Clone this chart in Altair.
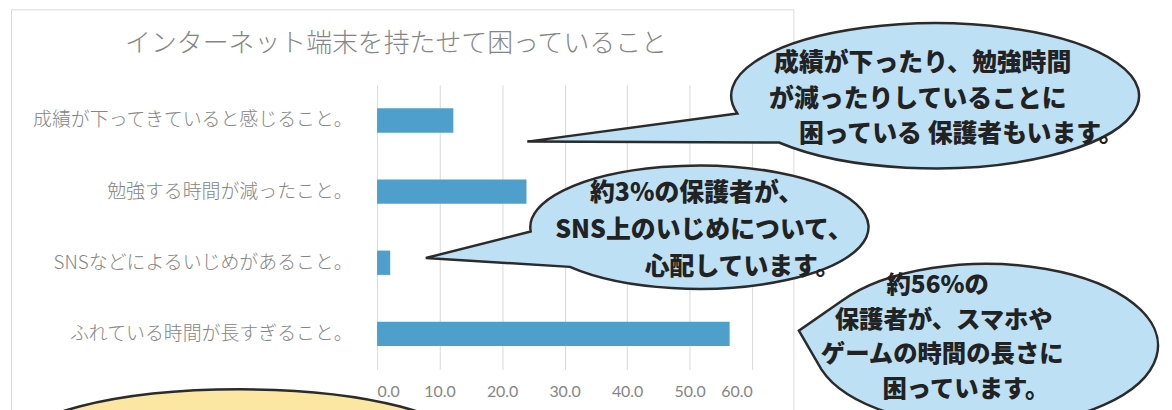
import math
import altair as alt
import pandas as pd

# ---------------- data ----------------
categories = [
    "成績が下ってきていると感じること。",
    "勉強する時間が減ったこと。",
    "SNSなどによるいじめがあること。",
    "ふれている時間が長すぎること。",
]
values = [12.2, 23.9, 2.1, 56.4]
tick_values = [0, 10, 20, 30, 40, 50, 60]
title_text = "インターネット端末を持たせて困っていること"

bubble1_lines = ["成績が下ったり、勉強時間", "が減ったりしていることに", "困っている 保護者もいます。"]
bubble2_lines = ["約3%の保護者が、", "SNS上のいじめについて、", "心配しています。"]
bubble3_lines = ["約56%の", "保護者が、スマホや", "ゲームの時間の長さに", "困っています。"]

df = pd.DataFrame({"category": categories, "value": values})
one = pd.DataFrame({"k": [0]})

# ---------------- layout helpers (page pixel -> plot pixel) ----------------
OX, OY = 376.0, 84.0
W, H = 377, 286


def px(x):
    return x - OX


def py(y):
    return y - OY


def bubble_path(rx, ry, tip=None, a_lo=None, a_hi=None):
    if tip is None:
        return f"M {-rx} 0 A {rx} {ry} 0 1 1 {rx} 0 A {rx} {ry} 0 1 1 {-rx} 0 Z"

    def P(a):
        r = math.radians(a)
        return rx * math.cos(r), ry * math.sin(r)

    hx, hy = P(a_hi)
    lx, ly = P(a_lo)
    return (f"M {hx:.1f} {hy:.1f} L {tip[0]:.1f} {tip[1]:.1f} L {lx:.1f} {ly:.1f} "
            f"A {rx} {ry} 0 1 0 {hx:.1f} {hy:.1f} Z")


BLUE_FILL = "#BDE0F5"
YELLOW_FILL = "#FBE7A1"
OUTLINE = "#2B2B2B"
TEXT_DARK = "#222222"
GRAY = "#858585"

# ---------------- layers ----------------
frame = alt.Chart(one).mark_rect(fill="white", fillOpacity=0, stroke="#D9D9D9", strokeWidth=1).encode(
    x=alt.value(px(8.5)), x2=alt.value(px(795)), y=alt.value(py(8.5)), y2=alt.value(py(440))
)

title = alt.Chart(one).mark_text(
    text=title_text, fontSize=26, color=GRAY, font="Noto Sans CJK JP", fontWeight=300,
    align="center", baseline="middle",
).encode(x=alt.value(px(395)), y=alt.value(py(43)))

bars = alt.Chart(df).mark_bar(color="#4E9FCB").encode(
    x=alt.X(
        "value:Q",
        scale=alt.Scale(domain=[0, 60], nice=False, zero=True),
        axis=alt.Axis(
            values=tick_values, format=".1f", grid=True, gridColor="#D9D9D9", gridWidth=1,
            domain=False, ticks=False, tickSize=0, labelFontSize=16, labelColor=GRAY,
            labelFont="Lato", labelPadding=14, title=None,
        ),
    ),
    y=alt.Y(
        "category:N",
        sort=categories,
        scale=alt.Scale(paddingInner=0.658, paddingOuter=0.329),
        axis=alt.Axis(
            domain=False, ticks=False, tickSize=0, labelFontSize=19, labelColor=GRAY,
            labelFont="Noto Sans CJK JP", labelFontWeight=300, labelPadding=25, labelLimit=400,
            minExtent=368, maxExtent=368, title=None, grid=False,
        ),
    ),
)


def bubble(cx, cy, path, fill):
    return alt.Chart(one).mark_point(
        shape=path, filled=True, fill=fill, stroke=OUTLINE, strokeWidth=2.5,
        opacity=1, fillOpacity=1, strokeOpacity=1, size=4,
    ).encode(x=alt.value(px(cx)), y=alt.value(py(cy)))


# bubble 1 (top right)
b1c = (937, 95)
b1 = bubble(*b1c, bubble_path(205, 73, tip=(527 - b1c[0], 141 - b1c[1]), a_lo=140, a_hi=166), BLUE_FILL)
# bubble 2 (middle)
b2c = (700, 227)
b2 = bubble(*b2c, bubble_path(170, 62, tip=(425 - b2c[0], 258 - b2c[1]), a_lo=140, a_hi=176), BLUE_FILL)
# bubble 3 (bottom right)
b3c = (988, 346)
b3 = bubble(*b3c, bubble_path(173, 82, tip=(800 - b3c[0], 331 - b3c[1]), a_lo=163, a_hi=213), BLUE_FILL)
# yellow bubble (bottom left, cut off)
b4 = bubble(238, 449, bubble_path(228, 59), YELLOW_FILL)

text_layers = []


def add_lines(lines, xs, ys, size):
    for t, x, y in zip(lines, xs, ys):
        text_layers.append(
            alt.Chart(one).mark_text(
                text=t, fontSize=size, font="Noto Sans CJK JP", fontWeight=900,
                color=TEXT_DARK, align="left", baseline="middle",
            ).encode(x=alt.value(px(x)), y=alt.value(py(y)))
        )


add_lines(bubble1_lines, [775, 770, 800], [62, 98, 133], 25)
add_lines(bubble2_lines, [590, 555, 645], [193, 230, 267], 25)
add_lines(bubble3_lines, [888, 836, 822, 884], [286, 321, 356, 391], 24.5)

chart = alt.layer(frame, title, bars, b1, b2, b3, b4, *text_layers).properties(
    width=W, height=H, padding=0
).configure_view(stroke=None)

chart.save("out.html", embed_options={"renderer": "svg", "actions": False})
